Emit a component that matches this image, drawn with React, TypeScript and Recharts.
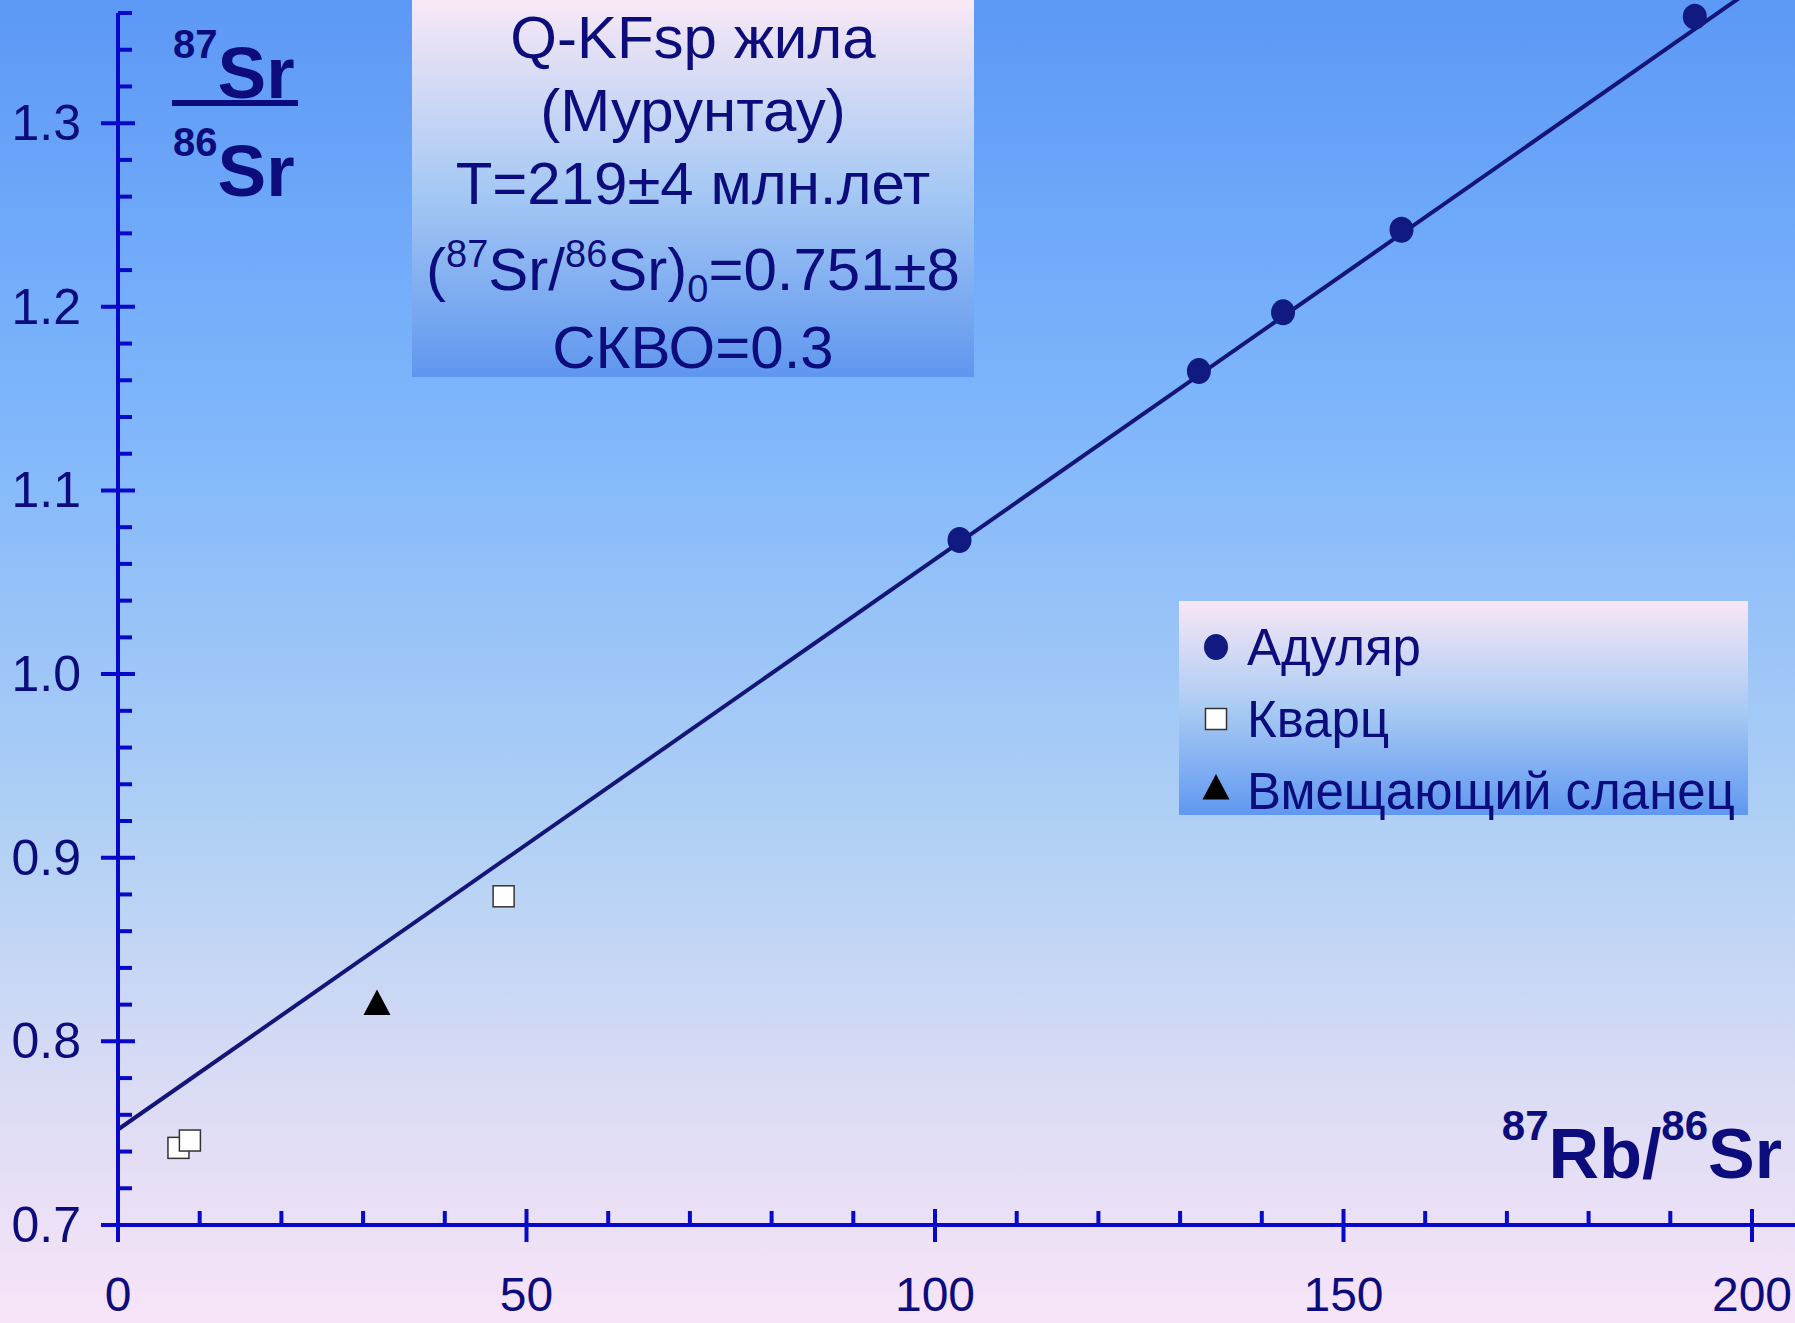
import { ScatterChart, Scatter, XAxis, YAxis, ReferenceLine, Legend } from "recharts"

const adular = [
  { x: 103.0, y: 1.073 },
  { x: 132.3, y: 1.165 },
  { x: 142.6, y: 1.197 },
  { x: 157.1, y: 1.242 },
  { x: 193.0, y: 1.358 },
]
const quartz = [
  { x: 7.4, y: 0.742 },
  { x: 8.8, y: 0.746 },
  { x: 47.2, y: 0.879 },
]
const shale = [{ x: 31.7, y: 0.819 }]
// isochron end points
const isochron = [
  { x: 0, y: 0.752 },
  { x: 200, y: 1.373 },
]
const xTicks = [0, 10, 20, 30, 40, 50, 60, 70, 80, 90, 100, 110, 120, 130, 140, 150, 160, 170, 180, 190, 200]
const yTicks = Array.from({ length: 34 }, (_, i) => Math.round((0.7 + i * 0.02) * 100) / 100)
const names = ["Адуляр", "Кварц", "Вмещающий сланец"]

const FONT = "'Liberation Sans', Arial, sans-serif"
const AXIS = "#0808c8"
const NAVY = "#0c0c7c"

const XTick = ({ x, y, payload }: any) => {
  const major = payload.value % 50 === 0
  return (
    <g>
      {major ? (
        <line x1={x} x2={x} y1={y - 16} y2={y + 17} stroke={AXIS} strokeWidth={4} />
      ) : (
        <line x1={x} x2={x} y1={y - 14} y2={y} stroke={AXIS} strokeWidth={4} />
      )}
      {major && (
        <text x={x} y={y + 86} textAnchor="middle" fontSize={48} fill={NAVY} fontFamily={FONT}>
          {payload.value}
        </text>
      )}
    </g>
  )
}

const YTick = ({ x, y, payload }: any) => {
  const major = Math.round(payload.value * 100) % 10 === 0
  return (
    <g>
      {major ? (
        <line x1={x - 17} x2={x + 17} y1={y} y2={y} stroke={AXIS} strokeWidth={4} />
      ) : (
        <line x1={x} x2={x + 14} y1={y} y2={y} stroke={AXIS} strokeWidth={4} />
      )}
      {major && (
        <text x={x - 37} y={y + 17} textAnchor="end" fontSize={50} fill={NAVY} fontFamily={FONT}>
          {payload.value.toFixed(1)}
        </text>
      )}
    </g>
  )
}

const Dot = (p: any) => <ellipse cx={p.cx} cy={p.cy} rx={12} ry={13} fill="#101a80" />
const Square = (p: any) => (
  <rect x={p.cx - 10.5} y={p.cy - 10.5} width={21} height={21} fill="#ffffff" stroke="#333333" strokeWidth={1.5} />
)
const Tri = (p: any) => (
  <polygon points={`${p.cx},${p.cy - 17} ${p.cx - 13.5},${p.cy + 8.6} ${p.cx + 13.5},${p.cy + 8.6}`} fill="#000000" />
)

const marker = (i: number, cx: number, cy: number) =>
  i === 0 ? <Dot cx={cx} cy={cy} /> : i === 1 ? <Square cx={cx} cy={cy} /> : <Tri cx={cx} cy={cy} />

const LegendBox = ({ payload }: any) => {
  const items = [...(payload || [])].sort((a: any, b: any) => names.indexOf(a.value) - names.indexOf(b.value))
  return (
    <svg width={569} height={240} style={{ overflow: "visible" }}>
      <defs>
        <linearGradient id="lg" x1="0" y1="0" x2="0" y2="1">
          <stop offset="0%" stopColor="#f8e6f5" />
          <stop offset="50%" stopColor="#a9cbf3" />
          <stop offset="100%" stopColor="#6098f0" />
        </linearGradient>
      </defs>
      <rect width={569} height={214} fill="url(#lg)" />
      {items.map((e: any) => {
        const i = names.indexOf(e.value)
        return (
          <g key={e.value}>
            {marker(i, 37, 46 + i * 72)}
            <text x={68} y={64 + i * 72} fontSize={51} fill={NAVY} fontFamily={FONT}>
              {e.value}
            </text>
          </g>
        )
      })}
    </svg>
  )
}

export default function App() {
  return (
    <div
      style={{
        position: "absolute",
        left: 0,
        top: 0,
        width: 1795,
        height: 1323,
        background: "linear-gradient(#5c98f6 0%, #7db5fb 30%, #b4d2f4 65%, #dcdcf4 83%, #f8e4f8 100%)",
      }}
    >
      <ScatterChart width={1795} height={1323} margin={{ top: 13, right: 43, bottom: 68, left: 58 }}>
        <defs>
          <linearGradient id="tb" x1="0" y1="0" x2="0" y2="1">
            <stop offset="0%" stopColor="#f8e8f5" />
            <stop offset="50%" stopColor="#a6c9f4" />
            <stop offset="100%" stopColor="#5f96ee" />
          </linearGradient>
        </defs>
        <XAxis
          type="number"
          dataKey="x"
          domain={[0, 200]}
          ticks={xTicks}
          interval={0}
          height={30}
          tickSize={0}
          tickMargin={0}
          axisLine={false}
          tickLine={false}
          tick={XTick}
        />
        <YAxis
          type="number"
          dataKey="y"
          domain={[0.7, 1.36]}
          ticks={yTicks}
          interval={0}
          width={60}
          tickSize={0}
          tickMargin={0}
          axisLine={{ stroke: AXIS, strokeWidth: 4 }}
          tickLine={false}
          tick={YTick}
        />
        <ReferenceLine
          segment={[{ x: 0, y: 0.7 }, { x: 210, y: 0.7 }]}
          stroke={AXIS}
          strokeWidth={4}
          ifOverflow="visible"
        />
        <ReferenceLine segment={isochron} stroke="#151578" strokeWidth={4} ifOverflow="visible" />
        <Scatter name={names[0]} data={adular} fill="#101a80" shape={Dot} isAnimationActive={false} />
        <Scatter name={names[1]} data={quartz} fill="#ffffff" shape={Square} isAnimationActive={false} />
        <Scatter name={names[2]} data={shale} fill="#000000" shape={Tri} isAnimationActive={false} />
        <Legend
          layout="vertical"
          align="center"
          verticalAlign="middle"
          content={LegendBox}
          wrapperStyle={{ left: 1179, top: 601, width: 569, height: 214 }}
        />

        <rect x={412} y={0} width={562} height={377} fill="url(#tb)" />
        <g fontFamily={FONT} fontSize={60} fill={NAVY} textAnchor="middle">
          <text x={693} y={58}>Q-KFsp жила</text>
          <text x={693} y={131}>(Мурунтау)</text>
          <text x={693} y={204}>T=219±4 млн.лет</text>
          <text x={693} y={290}>
            (<tspan fontSize={38} dy={-23}>87</tspan>
            <tspan dy={23}>Sr/</tspan>
            <tspan fontSize={38} dy={-23}>86</tspan>
            <tspan dy={23}>Sr)</tspan>
            <tspan fontSize={38} dy={12}>0</tspan>
            <tspan dy={-12}>=0.751±8</tspan>
          </text>
          <text x={693} y={368}>СКВО=0.3</text>
        </g>

        <g fontFamily={FONT} fill={NAVY} fontWeight="bold">
          <text x={173} y={98}>
            <tspan fontSize={40} dy={-40}>87</tspan>
            <tspan fontSize={73} dy={40}>Sr</tspan>
          </text>
          <rect x={172} y={100} width={126} height={6} />
          <text x={173} y={196}>
            <tspan fontSize={40} dy={-40}>86</tspan>
            <tspan fontSize={73} dy={40}>Sr</tspan>
          </text>
          <text x={1782} y={1178} textAnchor="end">
            <tspan fontSize={42} dy={-38}>87</tspan>
            <tspan fontSize={70} dy={38}>Rb/</tspan>
            <tspan fontSize={42} dy={-38}>86</tspan>
            <tspan fontSize={70} dy={38}>Sr</tspan>
          </text>
        </g>
      </ScatterChart>
    </div>
  )
}
